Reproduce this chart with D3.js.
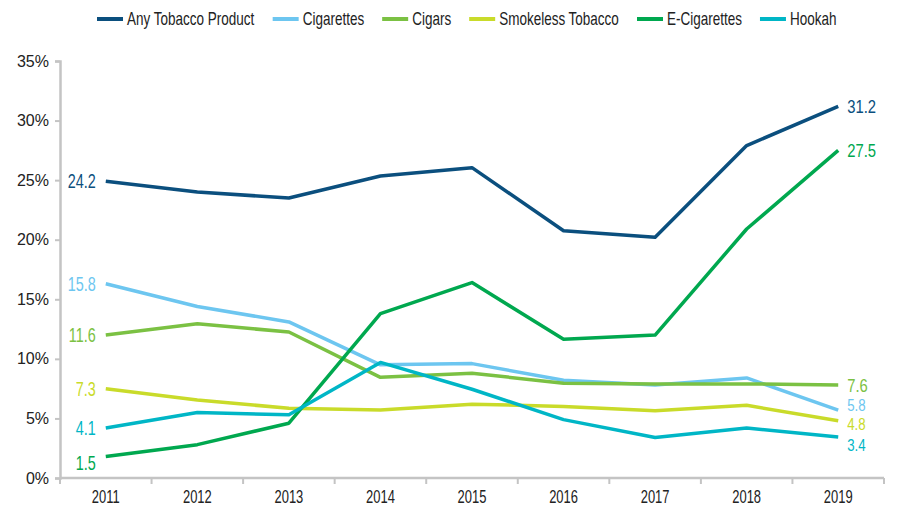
<!DOCTYPE html>
<meta charset="utf-8">
<script src="https://d3js.org/d3.v7.min.js"></script>
<style>
  body { margin: 0; background: #fff; }
  text { font-family: "Liberation Sans", Arial, sans-serif; }
</style>
<svg id="chart" width="897" height="507"></svg>
<script>
  // categories and series (percent, as plotted)
  const years = ["2011", "2012", "2013", "2014", "2015", "2016", "2017", "2018", "2019"];
  const seriesNames = ["Any Tobacco Product", "Cigarettes", "Cigars", "Smokeless Tobacco", "E-Cigarettes", "Hookah"];
  const seriesColors = ["#0b4f7e", "#6dc6f0", "#7bc143", "#c9db2a", "#00a84f", "#00b6c6"];
  const anyTobacco = [24.9, 24.0, 23.5, 25.35, 26.05, 20.75, 20.2, 27.9, 31.2];
  const cigarettes = [16.3, 14.4, 13.1, 9.5, 9.6, 8.2, 7.8, 8.4, 5.7];
  const cigars = [12.0, 12.95, 12.25, 8.45, 8.8, 7.95, 7.9, 7.9, 7.8];
  const smokeless = [7.5, 6.55, 5.85, 5.7, 6.2, 6.0, 5.65, 6.1, 4.8];
  const eCigarettes = [1.8, 2.8, 4.6, 13.8, 16.4, 11.65, 12.0, 20.9, 27.5];
  const hookah = [4.2, 5.5, 5.3, 9.7, 7.45, 4.9, 3.4, 4.2, 3.45];
  const startLabels = ["24.2", "15.8", "11.6", "7.3", "1.5", "4.1"];
  const endLabels = ["31.2", "5.8", "7.6", "4.8", "27.5", "3.4"];
  const yTicks = [0, 5, 10, 15, 20, 25, 30, 35];

  const allSeries = [anyTobacco, cigarettes, cigars, smokeless, eCigarettes, hookah];

  const svg = d3.select("#chart");
  const mLeft = 60, mRight = 884, mTop = 61, mBottom = 478;

  const x = d3.scaleBand().domain(years).range([mLeft, mRight]);
  const y = d3.scaleLinear().domain([0, 35]).range([mBottom, mTop]);
  const cx = d => x(d) + x.bandwidth() / 2;

  // condensed look: squeeze text horizontally around its anchor
  function narrowText(g, px, py, sx) {
    return g.append("text").attr("transform", `translate(${px},${py}) scale(${sx || 0.72},1)`);
  }

  // y axis
  const yAxis = svg.append("g").attr("transform", `translate(${mLeft},0)`)
    .call(d3.axisLeft(y).tickValues(yTicks).tickSize(5).tickFormat(d => d + "%"));
  yAxis.select(".domain").attr("stroke", "#c4c4c4").attr("stroke-width", 2.5);
  yAxis.selectAll(".tick line").attr("stroke", "#c4c4c4").attr("stroke-width", 2);
  yAxis.selectAll(".tick text").attr("x", -11).attr("font-size", 16).attr("fill", "#222")
    .style("font-family", "Liberation Sans, Arial, sans-serif");

  // x axis: ticks between categories
  const xAxis = svg.append("g").attr("transform", `translate(0,${mBottom})`);
  xAxis.append("line").attr("x1", mLeft).attr("x2", mRight).attr("stroke", "#c4c4c4").attr("stroke-width", 2.5);
  xAxis.selectAll("line.sep").data(years.map((d, i) => i).concat([years.length]))
    .enter().append("line").attr("class", "sep")
    .attr("x1", i => mLeft + i * x.step()).attr("x2", i => mLeft + i * x.step())
    .attr("y1", 0).attr("y2", 6).attr("stroke", "#c4c4c4").attr("stroke-width", 2);
  years.forEach(d => {
    narrowText(xAxis, cx(d), 25).attr("text-anchor", "middle")
      .attr("font-size", 18).attr("fill", "#222").text(d);
  });

  // lines
  const line = d3.line().x((d, i) => cx(years[i])).y(d => y(d));
  svg.selectAll("path.series").data(allSeries).enter().append("path")
    .attr("class", "series")
    .attr("d", line)
    .attr("fill", "none")
    .attr("stroke", (d, i) => seriesColors[i])
    .attr("stroke-width", 3.5)
    .attr("stroke-linejoin", "round");

  // value labels at both ends
  const startDy = [0, 0, 0, 0, 6, 0];
  const endDy = [0, -5, 0, 3, 0, 8];
  const endSize = [19, 17, 19, 17, 19, 17];
  const labels = svg.append("g");
  allSeries.forEach((s, i) => {
    narrowText(labels, cx(years[0]) - 10, y(s[0]) + startDy[i])
      .attr("dy", "0.35em").attr("text-anchor", "end")
      .attr("font-size", 20).attr("fill", seriesColors[i]).text(startLabels[i]);
    narrowText(labels, cx(years[years.length - 1]) + 9, y(s[s.length - 1]) + endDy[i], 0.78)
      .attr("dy", "0.35em").attr("text-anchor", "start")
      .attr("font-size", endSize[i]).attr("fill", seriesColors[i]).text(endLabels[i]);
  });

  // legend across the top
  const legend = svg.append("g").attr("transform", "translate(0,19)");
  const items = legend.selectAll("g").data(seriesNames).enter().append("g");
  items.append("line").attr("x1", 0).attr("x2", 26)
    .attr("stroke", (d, i) => seriesColors[i]).attr("stroke-width", 4);
  items.each(function (d) {
    narrowText(d3.select(this), 30, 0, 0.75).attr("dy", "0.35em")
      .attr("font-size", 18).attr("fill", "#222").text(d);
  });
  const widths = [];
  items.each(function () { widths.push(this.getBoundingClientRect().width); });
  const gap = 18;
  let pos = 97;
  items.attr("transform", (d, i) => {
    const t = `translate(${pos},0)`;
    pos += widths[i] + gap;
    return t;
  });
</script>
